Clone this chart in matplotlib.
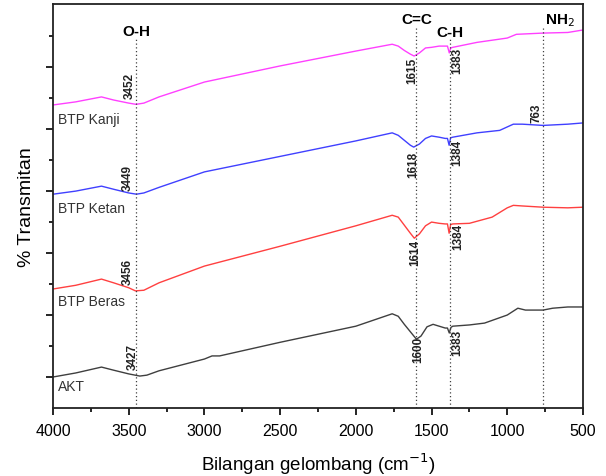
"""
Spektrum FTIR AKT dan BTP (Beras, Ketan, Kanji) dengan penanda gugus fungsi.
"""
import matplotlib
matplotlib.use("Agg")
import matplotlib.pyplot as plt
from matplotlib.ticker import MultipleLocator

plt.rcParams["font.family"] = ["Liberation Sans", "DejaVu Sans"]

# ── Data (sumbu y dalam satuan relatif) ─────────────────────────────────────
wn_akt = [4000, 3850, 3680, 3600, 3500, 3427, 3380, 3300, 3000, 2950, 2900, 2500, 2000,
          1760, 1720, 1680, 1640, 1600, 1570, 1530, 1490, 1450, 1410, 1395, 1383, 1372,
          1360, 1250, 1150, 1000, 930, 880, 763, 700, 600, 500]
t_akt = [5.0, 5.65, 6.6, 6.1, 5.5, 5.15, 5.3, 6.0, 7.9, 8.4, 8.4, 10.6, 13.2,
         15.2, 14.8, 13.5, 12.3, 11.1, 11.6, 13.1, 13.5, 13.2, 12.9, 12.9, 12.1, 13.0,
         13.2, 13.4, 13.7, 15.0, 16.1, 15.8, 15.8, 16.1, 16.3, 16.3]

wn_beras = [4000, 3850, 3680, 3600, 3500, 3456, 3400, 3300, 3000, 2500, 2000,
            1760, 1720, 1680, 1640, 1614, 1580, 1540, 1500, 1450, 1410, 1395, 1384, 1374,
            1360, 1250, 1100, 1000, 960, 900, 763, 600, 500]
t_beras = [19.2, 19.8, 20.8, 20.2, 19.4, 18.9, 19.0, 20.2, 22.9, 26.1, 29.4,
           31.1, 30.8, 29.5, 28.2, 27.4, 28.1, 29.4, 30.0, 29.8, 29.7, 29.7, 28.2, 29.6,
           29.7, 29.8, 30.8, 32.3, 32.7, 32.6, 32.4, 32.3, 32.4]

wn_ketan = [4000, 3850, 3680, 3600, 3500, 3449, 3400, 3300, 3000, 2500, 2000,
            1760, 1720, 1680, 1640, 1618, 1580, 1540, 1500, 1450, 1410, 1395, 1384, 1374,
            1360, 1200, 1050, 960, 900, 763, 600, 500]
t_ketan = [34.5, 35.0, 35.8, 35.3, 34.7, 34.5, 34.7, 35.6, 38.1, 40.6, 43.1,
           44.4, 44.0, 43.2, 42.4, 42.1, 42.6, 43.5, 43.9, 43.7, 43.5, 43.5, 42.4, 43.6,
           43.7, 44.4, 44.8, 45.8, 45.8, 45.6, 45.8, 46.0]

wn_kanji = [4000, 3850, 3680, 3600, 3500, 3452, 3400, 3300, 3000, 2500, 2000,
            1760, 1720, 1680, 1640, 1615, 1580, 1540, 1500, 1450, 1410, 1395, 1383, 1373,
            1360, 1200, 1000, 940, 763, 600, 500]
t_kanji = [48.9, 49.4, 50.2, 49.7, 49.2, 49.0, 49.2, 50.2, 52.6, 55.2, 57.6,
           58.7, 58.4, 57.7, 57.1, 56.8, 57.3, 58.1, 58.2, 58.4, 58.4, 58.4, 57.3, 58.1,
           58.2, 59.0, 59.7, 60.3, 60.5, 60.6, 61.0]

series = [
    ("AKT", wn_akt, t_akt, "#3f3f3f", 3.5),
    ("BTP Beras", wn_beras, t_beras, "#ff4040", 17.3),
    ("BTP Ketan", wn_ketan, t_ketan, "#4040ff", 32.3),
    ("BTP Kanji", wn_kanji, t_kanji, "#ff40ff", 46.6),
]

# gugus fungsi: (label, posisi garis, puncak garis, y label)
groups = [
    ("O-H", 3450, 59.5, 60.8),
    ("C=C", 1600, 61.6, 62.7),
    ("C-H", 1380, 59.5, 60.6),
    ("NH$_2$", 763, 61.5, 62.7),
]

# angka puncak: (teks, x, y)
peaks = [
    ("3452", 3491, 52.1), ("3449", 3505, 37.3), ("3456", 3505, 22.1), ("3427", 3472, 8.4),
    ("1615", 1629, 54.5), ("1383", 1332, 56.1), ("763", 810, 47.7),
    ("1618", 1623, 39.4), ("1384", 1332, 41.3),
    ("1614", 1609, 25.2), ("1384", 1325, 27.7),
    ("1600", 1590, 9.5), ("1383", 1332, 10.6),
]

fig = plt.figure(figsize=(6.06, 4.77), dpi=100)
ax = fig.add_axes([0.0875, 0.1426, 0.8745, 0.847])

for name, wn, t, col, ylab in series:
    ax.plot(wn, t, color=col, lw=1.0)
    ax.text(3965, ylab, name, fontsize=10, color="#333333", va="center", ha="left")

for lab, x, top, ylab in groups:
    ax.plot([x, x], [0, top], color="#404040", lw=0.9, ls=(0, (1, 2)))
    ha = "left" if lab.startswith("NH") else "center"
    xx = x - 10 if ha == "left" else x
    ax.text(xx, ylab, lab, fontsize=11, fontweight="bold", ha=ha, va="center")

for txt, x, y in peaks:
    ax.text(x, y, txt, fontsize=8.5, fontweight="bold", rotation=90,
            ha="center", va="center", color="#222222")

ax.set_xlim(4000, 500)
ax.set_ylim(0, 65.2)
ax.xaxis.set_major_locator(MultipleLocator(500))
ax.xaxis.set_minor_locator(MultipleLocator(250))
ax.set_yticks([5, 15, 25, 35, 45, 55])
ax.set_yticks([10, 20, 30, 40, 50, 60], minor=True)
ax.set_yticklabels([])
ax.tick_params(which="major", direction="out", length=5, width=1.2, labelsize=11.5, pad=6)
ax.tick_params(which="minor", direction="out", length=3, width=1.2)
for s in ax.spines.values():
    s.set_linewidth(1.3)
    s.set_color("#222222")

ax.set_xlabel("Bilangan gelombang (cm$^{-1}$)", fontsize=13.5, labelpad=9)
ax.set_ylabel("% Transmitan", fontsize=14, labelpad=2)

fig.savefig("out.png", dpi=100)
